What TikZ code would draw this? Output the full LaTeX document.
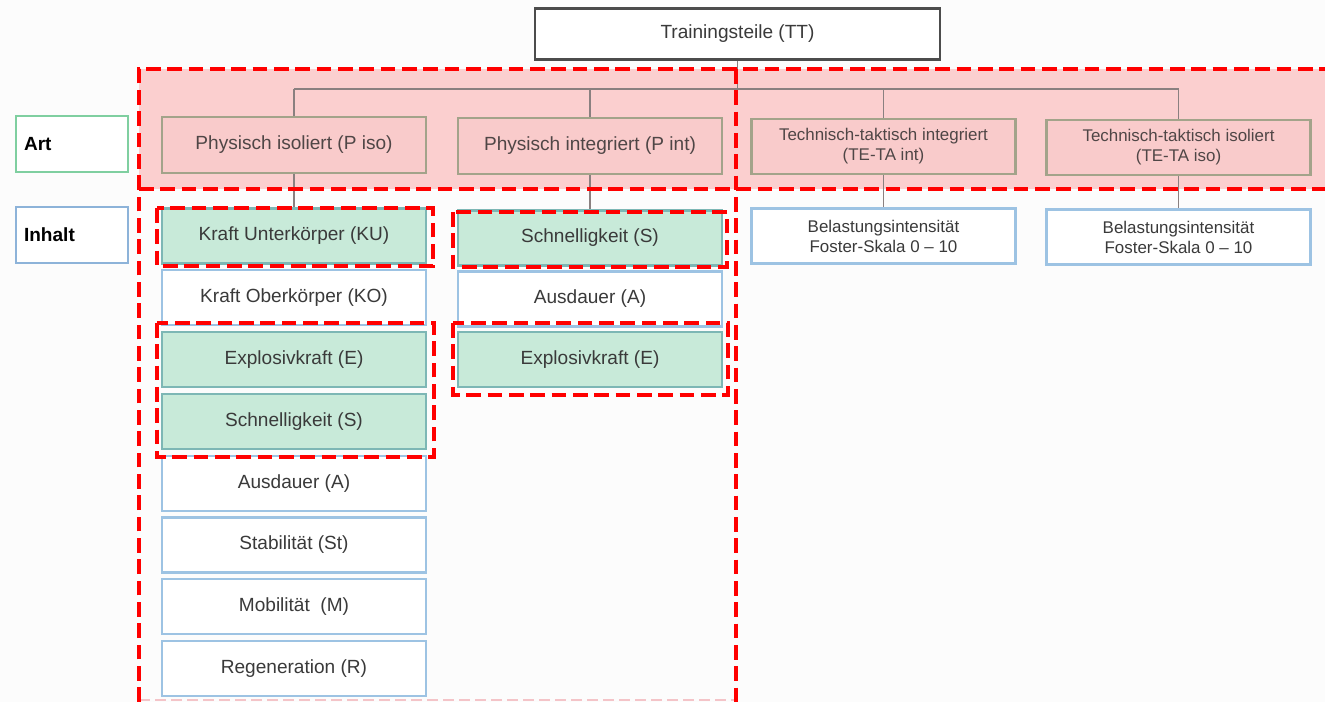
\documentclass[tikz,border=0pt]{standalone}
\usepackage{fontspec}
\setmainfont{Liberation Sans}
\definecolor{bandpink}{HTML}{FBCFCF}
\definecolor{artpink}{HTML}{F9CBCB}
\definecolor{artborder}{HTML}{A3A38A}
\definecolor{greenfill}{HTML}{C8EAD9}
\definecolor{greenborder}{HTML}{7DB7B5}
\definecolor{blueborder}{HTML}{9DC3E3}
\definecolor{labgreen}{HTML}{7FCFA0}
\definecolor{labblue}{HTML}{8DB3D9}
\definecolor{txt}{HTML}{3A3A3A}
\definecolor{arttxt}{HTML}{4F4646}
\definecolor{conn}{HTML}{8A8080}
\definecolor{dred}{HTML}{FF0000}
\definecolor{paleline}{HTML}{F4C4C8}
\definecolor{bg}{HTML}{FCFCFC}
\begin{document}
\begin{tikzpicture}[x=0.75pt,y=-0.75pt,
  basebox/.style={rectangle, inner sep=0pt, align=center, line width=1.7pt,
    minimum width=198pt, minimum height=41.25pt,
    font=\fontsize{14.3}{17}\selectfont, text=txt},
  artbox/.style={basebox, draw=artborder, fill=artpink, text=arttxt, minimum height=41.5pt},
  artbox2/.style={artbox, font=\fontsize{12.7}{15}\selectfont},
  cbox/.style={basebox, draw=blueborder, fill=white},
  cbox2/.style={cbox, font=\fontsize{12.7}{15}\selectfont},
  gbox/.style={basebox, draw=greenborder, fill=greenfill},
  topbox/.style={basebox, draw=black!70, fill=white, minimum width=303.75pt, minimum height=38.25pt},
  labbox/.style={rectangle, line width=1.7pt, fill=white, minimum width=84pt, minimum height=42pt,
    text width=72pt, inner xsep=6pt, align=left, font=\fontsize{14.3}{17}\selectfont\bfseries, text=black},
  connline/.style={draw=conn, line width=1.4pt},
  reddash/.style={draw=dred, line width=3pt, dash pattern=on 11pt off 5pt},
  paledash/.style={draw=paleline, line width=1pt, dash pattern=on 8pt off 4pt}
]
\useasboundingbox (0,0) rectangle (1325,702);
\clip (0,0) rectangle (1325,702);
\fill[bg] (0,0) rectangle (1325,702);

% pink band
\fill[bandpink] (139,69) rectangle (1330,189);

% bus coordinate
\coordinate (bus) at (0,89);

% nodes
\node[topbox] (tt) at (737.5,34) {Trainingsteile (TT)};

\node[labbox, draw=labgreen] (lart) at (72,144) {Art};
\node[labbox, draw=labblue] (linh) at (72,235) {Inhalt};

\node[artbox] (piso) at (294,145) {Physisch isoliert (P iso)};
\node[artbox] (pint) at (590,146) {Physisch integriert (P int)};
\node[artbox2] (tint) at (883.5,146.5) {Technisch-taktisch integriert\\(TE-TA int)};
\node[artbox2] (tiso) at (1178.5,147.5) {Technisch-taktisch isoliert\\(TE-TA iso)};

% column 1
\node[gbox] (ku) at (294,236) {Kraft Unterkörper (KU)};
\node[cbox] (ko) at (294,297.8) {Kraft Oberkörper (KO)};
\node[gbox] (e1) at (294,359.6) {Explosivkraft (E)};
\node[gbox] (s1) at (294,421.4) {Schnelligkeit (S)};
\node[cbox] (a1) at (294,483.2) {Ausdauer (A)};
\node[cbox] (st) at (294,545) {Stabilität (St)};
\node[cbox] (mo) at (294,606.8) {Mobilität~ (M)};
\node[cbox] (re) at (294,668.6) {Regeneration (R)};

% column 2
\node[gbox] (s2) at (590,238) {Schnelligkeit (S)};
\node[cbox] (a2) at (590,299) {Ausdauer (A)};
\node[gbox] (e2) at (590,359.5) {Explosivkraft (E)};

% columns 3, 4
\node[cbox2] (b3) at (883.5,236) {Belastungsintensität\\Foster-Skala 0 – 10};
\node[cbox2] (b4) at (1178.5,237) {Belastungsintensität\\Foster-Skala 0 – 10};

% connectors
\draw[connline] (tt.south) -- (tt.south |- bus);
\draw[connline] (piso.north |- bus) -- (tiso.north |- bus);
\draw[connline] (piso.north) -- (piso.north |- bus);
\draw[connline] (pint.north) -- (pint.north |- bus);
\draw[connline] (tint.north) -- (tint.north |- bus);
\draw[connline] (tiso.north) -- (tiso.north |- bus);
\draw[connline] (piso.south) -- (ku.north);
\draw[connline] (pint.south) -- (s2.north);
\draw[connline] (tint.south) -- (b3.north);
\draw[connline] (tiso.south) -- (b4.north);

% red dashed outlines
\draw[paledash] (139,700) -- (736,700);
\draw[reddash] (139,702) -- (139,69) -- (1330,69);
\draw[reddash] (736,69) -- (736,702);
\draw[reddash] (139,189) -- (1330,189);
\draw[reddash] (157,208) rectangle (433,266);
\draw[reddash] (453,212) rectangle (727,267);
\draw[reddash] (157,323) rectangle (434,457);
\draw[reddash] (453,323) rectangle (728,395);
\end{tikzpicture}
\end{document}
